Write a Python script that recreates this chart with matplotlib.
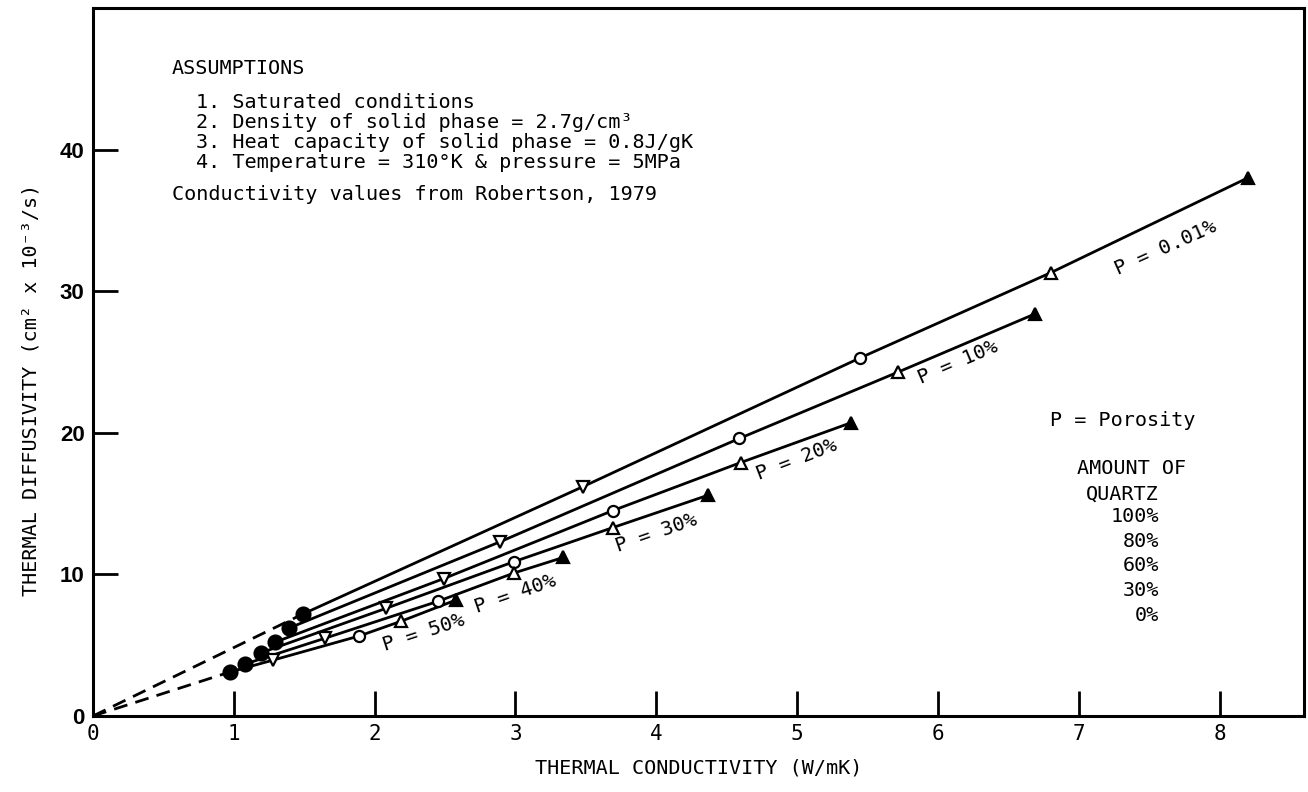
import matplotlib
matplotlib.use("Agg")
import matplotlib.pyplot as plt

# thermal conductivity (x) and diffusivity (y) for each porosity line,
# points ordered by quartz content: 0%, 30%, 60%, 80%, 100%
porosity_labels = ["P = 0.01%", "P = 10%", "P = 20%", "P = 30%", "P = 40%", "P = 50%"]
conductivity = [
    [1.49, 3.48, 5.45, 6.80, 8.20],
    [1.39, 2.89, 4.59, 5.72, 6.69],
    [1.29, 2.49, 3.69, 4.60, 5.38],
    [1.19, 2.08, 2.99, 3.69, 4.37],
    [1.08, 1.65, 2.45, 2.99, 3.34],
    [0.97, 1.28, 1.89, 2.19, 2.58],
]
diffusivity = [
    [7.2, 16.2, 25.3, 31.3, 38.0],
    [6.2, 12.3, 19.6, 24.3, 28.4],
    [5.2, 9.7, 14.5, 17.9, 20.7],
    [4.45, 7.6, 10.9, 13.3, 15.6],
    [3.67, 5.5, 8.1, 10.1, 11.2],
    [3.1, 3.95, 5.65, 6.7, 8.2],
]
quartz_labels = ["0%", "30%", "60%", "80%", "100%"]

# label anchor (data coords) and rotation for each porosity line
label_x = [7.62, 6.14, 5.00, 4.00, 3.00, 2.35]
label_y = [33.1, 25.0, 18.1, 12.9, 8.6, 5.9]
label_rot = [24, 23, 21, 19, 19, 18]

assumptions = [
    "1. Saturated conditions",
    "2. Density of solid phase = 2.7g/cm\u00b3",
    "3. Heat capacity of solid phase = 0.8J/gK",
    "4. Temperature = 310\u00b0K & pressure = 5MPa",
]

mono = "DejaVu Sans Mono"
# marker per quartz amount: 0% filled circle, 30% down triangle, 60% circle, 80% triangle, 100% filled triangle
markers = ["o", "v", "o", "^", "^"]
fills = ["black", "white", "white", "white", "black"]
msizes = [10, 9, 8, 9, 9]

fig = plt.figure(figsize=(13.08, 7.92), dpi=100)
ax = fig.add_axes([93 / 1308, 76 / 792, 1211 / 1308, 708 / 792])

for xs, ys in zip(conductivity, diffusivity):
    ax.plot(xs, ys, color="black", lw=2.0, zorder=2)
    for i in range(len(xs)):
        ax.plot(xs[i], ys[i], marker=markers[i], ms=msizes[i], mfc=fills[i],
                mec="black", mew=1.6, ls="none", zorder=3)

# dashed extrapolation to origin for outermost lines
for k in (0, -1):
    ax.plot([0, conductivity[k][0]], [0, diffusivity[k][0]], color="black",
            lw=2.0, ls=(0, (5, 3)), zorder=1)

for lab, lx, ly, rot in zip(porosity_labels, label_x, label_y, label_rot):
    ax.text(lx, ly, lab, rotation=rot, ha="center", va="center",
            family=mono, fontsize=14.5, rotation_mode="anchor")

# assumptions block
ax.text(0.065, 0.915, "ASSUMPTIONS", transform=ax.transAxes, family=mono,
        fontsize=14.5, va="center")
for j, line in enumerate(assumptions):
    ax.text(0.085, 0.866 - j * 0.0283, line, transform=ax.transAxes,
            family=mono, fontsize=14.5, va="center")
ax.text(0.065, 0.737, "Conductivity values from Robertson, 1979",
        transform=ax.transAxes, family=mono, fontsize=14.5, va="center")

# porosity / quartz key
ax.text(0.79, 0.417, "P = Porosity", transform=ax.transAxes, family=mono,
        fontsize=14.5, va="center")
ax.text(0.858, 0.349, "AMOUNT OF", transform=ax.transAxes, family=mono,
        fontsize=14.5, va="center", ha="center")
ax.text(0.880, 0.313, "QUARTZ", transform=ax.transAxes, family=mono,
        fontsize=14.5, va="center", ha="right")
for j, q in enumerate(quartz_labels[::-1]):
    ax.text(0.880, 0.282 - j * 0.0350, q, transform=ax.transAxes, family=mono,
            fontsize=14.5, va="center", ha="right")

ax.set_xlim(0, 8.6)
ax.set_ylim(0, 50)
ax.set_xticks(range(0, 9))
ax.set_yticks(range(0, 41, 10))
ax.tick_params(direction="in", length=18, width=2.0, pad=6)
ax.tick_params(axis="x", labelsize=15)
ax.tick_params(axis="y", labelsize=16)
for t in ax.get_xticklabels():
    t.set_family(mono)
for t in ax.get_yticklabels():
    t.set_family("Liberation Sans")
    t.set_fontweight("bold")
for s in ax.spines.values():
    s.set_linewidth(2.2)

ax.set_xlabel("THERMAL CONDUCTIVITY (W/mK)", family=mono, fontsize=14.5, labelpad=10)
ax.set_ylabel("THERMAL DIFFUSIVITY (cm\u00b2 x 10\u207b\u00b3/s)", family=mono,
              fontsize=14.5)
ax.yaxis.set_label_coords(-0.043, 0.46)

fig.savefig("out.png", dpi=100)
